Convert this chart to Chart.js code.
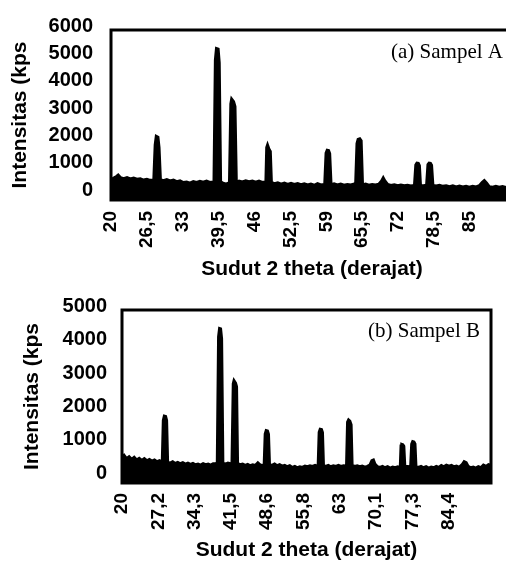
<!DOCTYPE html>
<html>
<head>
<meta charset="utf-8">
<script src="https://cdn.jsdelivr.net/npm/chart.js@4.4.0/dist/chart.umd.min.js"></script>
<style>
  body { margin: 0; background: #fff; overflow: hidden; }
  .wrap { width: 506px; overflow: hidden; }
  canvas { display: block; }
</style>
</head>
<body>
<div class="wrap" style="height:280px"><canvas class="chartA" width="516" height="280"></canvas></div>
<div class="wrap" style="height:282px"><canvas class="chartB" width="506" height="282"></canvas></div>
<script>
// Sampel A : sudut 2 theta dan intensitas
var thetaA = [20.0, 20.5, 21.0, 21.3, 21.7, 22.3, 22.9, 23.5, 24.1, 24.7, 25.3, 25.9, 26.5, 27.1, 27.75,
  28.0, 28.2, 28.5, 28.7, 28.95, 29.5, 30.1, 30.7, 31.3, 31.9, 32.5, 33.1, 33.7, 34.3, 34.9, 35.5,
  36.1, 36.7, 37.3, 37.9, 38.4, 38.65, 38.9, 39.1, 39.4, 39.6, 39.85, 40.3, 40.8, 41.2, 41.45,
  41.7, 41.85, 42.2, 42.45, 42.7, 43.2, 43.8, 44.4, 45.0, 45.6, 46.2, 46.8, 47.4, 47.85, 48.05,
  48.2, 48.35, 48.6, 48.85, 49.05, 49.6, 50.2, 50.8, 51.4, 52.0, 52.6, 53.2, 53.8, 54.4, 55.0,
  55.6, 56.2, 56.8, 57.4, 58.0, 58.5, 58.7, 58.95, 59.15, 59.4, 59.6, 59.85, 60.4, 61.0, 61.6,
  62.2, 62.8, 63.4, 64.0, 64.3, 64.55, 64.75, 65.05, 65.3, 65.55, 66.1, 66.7, 67.3, 67.9, 68.5,
  69.0, 69.3, 69.6, 70.1, 70.7, 71.3, 71.9, 72.5, 73.1, 73.7, 74.3, 74.8, 74.95, 75.2, 75.4,
  75.65, 75.85, 76.05, 76.6, 77.15, 77.4, 77.6, 77.85, 78.05, 78.3, 78.9, 79.5, 80.1, 80.7,
  81.3, 81.9, 82.5, 83.1, 83.7, 84.3, 84.9, 85.5, 86.1, 86.7, 87.2, 87.6, 88.0, 88.5, 89.1,
  89.7, 90.3, 90.9, 91.5, 92.1, 92.8];
var intensA = [520, 580, 640, 690, 600, 560, 600, 550, 580, 540, 560, 510, 540, 500, 510,
  1800, 2110, 2080, 1700, 520, 490, 530, 480, 510, 450, 480, 420, 440, 400, 450, 420,
  460, 430, 470, 420, 440, 420, 4900, 5320, 5300, 4800, 440, 400, 360, 390, 380,
  3300, 3470, 3380, 3200, 400, 470, 440, 480, 450, 470, 430, 470, 420, 440, 430,
  1700, 1790, 1650, 1560, 420, 380, 410, 360, 400, 350, 390, 350, 380, 340, 370,
  330, 360, 320, 380, 330, 350, 340, 1500, 1600, 1590, 1480, 340, 370, 330, 360,
  320, 350, 330, 360, 340, 1850, 2000, 2020, 1950, 330, 360, 320, 350, 330, 360,
  480, 590, 480, 350, 310, 340, 300, 330, 300, 320, 290, 310, 300, 1060, 1130,
  1120, 1040, 310, 300, 320, 1080, 1130, 1120, 1050, 310, 290, 320, 280, 300,
  270, 300, 260, 290, 260, 280, 250, 280, 260, 300, 420, 490, 400, 270, 250,
  280, 250, 270, 240, 260, 250];

// Sampel B
var thetaB = [20.0, 20.4, 20.9, 21.4, 21.9, 22.4, 22.9, 23.4, 23.9, 24.4, 24.9, 25.4, 25.9, 26.4, 26.9,
  27.4, 27.7, 27.95, 28.15, 28.35, 28.6, 28.8, 29.0, 29.5, 30.0, 30.5, 31.0, 31.5, 32.0, 32.5,
  33.0, 33.5, 34.0, 34.5, 35.0, 35.5, 36.0, 36.5, 37.0, 37.5, 38.0, 38.5, 38.8, 39.05, 39.25,
  39.45, 39.65, 39.9, 40.4, 40.9, 41.4, 41.7, 41.95, 42.1, 42.4, 42.6, 42.8, 43.3, 43.8, 44.3,
  44.8, 45.3, 45.8, 46.3, 46.8, 47.3, 47.8, 48.05, 48.25, 48.45, 48.7, 48.9, 49.1, 49.6, 50.1,
  50.6, 51.1, 51.6, 52.1, 52.6, 53.1, 53.6, 54.1, 54.6, 55.1, 55.6, 56.1, 56.6, 57.1, 57.6,
  58.1, 58.5, 58.7, 58.9, 59.1, 59.35, 59.55, 59.75, 60.2, 60.7, 61.2, 61.7, 62.2, 62.7, 63.2,
  63.7, 64.1, 64.3, 64.5, 64.7, 64.95, 65.2, 65.4, 65.9, 66.4, 66.9, 67.4, 67.9, 68.4, 68.9,
  69.3, 69.6, 69.9, 70.4, 70.9, 71.4, 71.9, 72.4, 72.9, 73.4, 73.9, 74.4, 74.7, 74.9, 75.05,
  75.2, 75.4, 75.6, 75.8, 76.3, 76.8, 76.95, 77.15, 77.35, 77.6, 77.8, 78.0, 78.5, 79.0, 79.5,
  80.0, 80.5, 81.0, 81.5, 82.0, 82.5, 83.0, 83.5, 84.0, 84.5, 85.0, 85.5, 86.0, 86.5, 87.1,
  87.5, 87.9, 88.3, 88.8, 89.3, 89.8, 90.3, 90.8, 91.3, 91.8, 92.3, 92.8];
var intensB = [600, 660, 560, 620, 540, 600, 520, 570, 510, 560, 500, 540, 490, 520, 470,
  500, 470, 480, 1700, 1830, 1820, 1700, 460, 430, 470, 420, 450, 410, 440, 400,
  430, 390, 420, 380, 400, 370, 410, 380, 400, 370, 410, 420, 430, 4200, 4450,
  4440, 4150, 430, 400, 430, 410, 420, 2800, 2890, 2820, 2710, 420, 380, 400, 360,
  390, 350, 380, 360, 440, 370, 360, 380, 1300, 1400, 1390, 1290, 380, 360, 400,
  350, 380, 340, 360, 320, 350, 300, 330, 290, 320, 300, 340, 320, 350, 330,
  360, 340, 350, 1350, 1440, 1430, 1340, 350, 330, 360, 320, 350, 330, 360, 330,
  350, 340, 360, 1650, 1716, 1680, 1570, 360, 330, 350, 320, 340, 310, 330, 370,
  500, 520, 400, 320, 300, 330, 290, 320, 280, 310, 290, 320, 300, 310, 940,
  990, 980, 930, 320, 330, 320, 330, 1000, 1070, 1060, 1000, 320, 300, 330, 290,
  320, 280, 310, 290, 330, 300, 360, 320, 370, 340, 360, 320, 340, 300, 380,
  470, 440, 330, 290, 310, 280, 320, 290, 370, 330, 380, 360];

// label sumbu
var xTicksA = [20, 26.5, 33, 39.5, 46, 52.5, 59, 65.5, 72, 78.5, 85];
var xTicksB = [20, 27.2, 34.3, 41.5, 48.6, 55.8, 63, 70.1, 77.3, 84.4];
var yTicksA = [0, 1000, 2000, 3000, 4000, 5000, 6000];
var yTicksB = [0, 1000, 2000, 3000, 4000, 5000];

function toPoints(xs, ys) {
  return xs.map(function(v, i) { return { x: v, y: ys[i] }; });
}

// bingkai + tulisan sampel
var frame = {
  id: 'frame',
  afterDraw: function(chart, args, opts) {
    var c = chart.ctx, a = chart.chartArea;
    c.save();
    c.strokeStyle = '#000';
    c.lineWidth = 3;
    c.strokeRect(a.left, a.top, a.right - a.left, a.bottom - a.top);
    c.fillStyle = '#000';
    c.font = '21px "Liberation Serif", "Times New Roman", serif';
    c.textAlign = 'right';
    c.textBaseline = 'middle';
    c.fillText(opts.text, a.right + opts.dx, a.top + opts.dy);
    c.restore();
  }
};

function makeChart(el, xs, ys, xTicks, yTicks, o) {
  var ctx = document.querySelector(el).getContext("2d");
  return new Chart(ctx, {
    type: "line",
    data: {
      datasets: [{
        data: toPoints(xs, ys),
        borderColor: "#000",
        backgroundColor: "#000",
        borderWidth: 3,
        pointRadius: 0,
        tension: 0,
        fill: "start"
      }]
    },
    options: {
      responsive: false,
      animation: false,
      layout: { padding: { top: o.top, right: o.right, left: 0, bottom: 0 } },
      plugins: {
        legend: { display: false },
        tooltip: { enabled: false },
        frame: { text: o.label, dx: o.dx, dy: o.dy }
      },
      scales: {
        x: {
          type: "linear",
          min: 20,
          max: 92.8,
          afterBuildTicks: function(s) { s.ticks = xTicks.map(function(v) { return { value: v }; }); },
          afterFit: function(s) { s.height = o.xh; },
          grid: { display: false, drawTicks: false },
          border: { display: false },
          ticks: {
            autoSkip: false,
            minRotation: 90,
            maxRotation: 90,
            padding: o.xpad,
            color: "#000",
            font: { family: "Liberation Sans, Arial", size: 19, weight: "bold" },
            callback: function(v) { return String(v).replace(".", ","); }
          },
          title: {
            display: true,
            text: "Sudut 2 theta (derajat)",
            color: "#000",
            padding: { top: 0, bottom: o.tpad },
            font: { family: "Liberation Sans, Arial", size: 21, weight: "bold", lineHeight: 1 }
          }
        },
        y: {
          min: o.ymin,
          max: o.ymax,
          afterBuildTicks: function(s) { s.ticks = yTicks.map(function(v) { return { value: v }; }); },
          afterFit: function(s) { s.width = o.yw; },
          grid: { display: false, drawTicks: false },
          border: { display: false },
          ticks: {
            padding: o.ypad,
            labelOffset: -4,
            color: "#000",
            font: { family: "Liberation Sans, Arial", size: 20, weight: "bold" },
            callback: function(v) { return String(v); }
          },
          title: {
            display: true,
            text: "Intensitas (kps",
            color: "#000",
            padding: { top: o.ytpad, bottom: 0 },
            font: { family: "Liberation Sans, Arial", size: 21, weight: "bold", lineHeight: 1 }
          }
        }
      }
    },
    plugins: [frame]
  });
}

var chartA = makeChart(".chartA", thetaA, intensA, xTicksA, yTicksA, {
  top: 27, right: 3, xh: 80, yw: 111, ymin: -220, ymax: 6000,
  xpad: 11, ypad: 18, tpad: 0, ytpad: 10,
  label: "(a) Sampel A", dx: -10, dy: 22
});

var chartB = makeChart(".chartB", thetaB, intensB, xTicksB, yTicksB, {
  top: 30, right: 15, xh: 79, yw: 122, ymin: -165, ymax: 5000,
  xpad: 10, ypad: 15, tpad: 1, ytpad: 22,
  label: "(b) Sampel B", dx: -11, dy: 21
});
</script>
</body>
</html>
